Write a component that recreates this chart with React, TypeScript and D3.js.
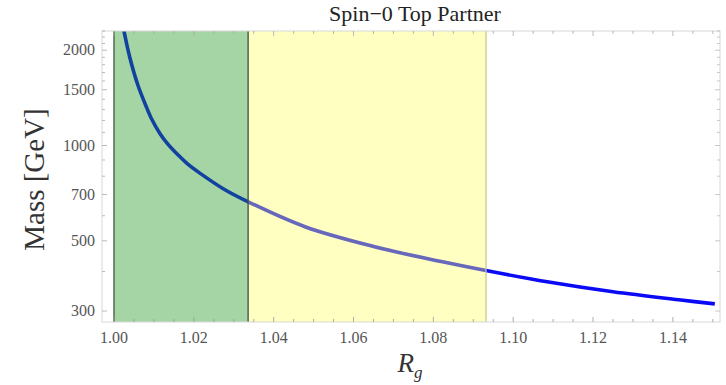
import React from 'react';
import * as d3 from 'd3';

// values
const rg = [1.0025, 1.004, 1.006, 1.008, 1.0095, 1.0115, 1.0135, 1.016, 1.0185, 1.0215, 1.028, 1.0335, 1.048, 1.065, 1.082, 1.0935, 1.1085, 1.125, 1.142, 1.1505];
const mass = [2300, 1890, 1550, 1335, 1208, 1092, 1010, 935, 873, 818, 722, 665, 553, 480, 430, 402, 371, 345, 325, 316];

const greenBand = [1.0, 1.0336];
const yellowBand = [1.0336, 1.0932];

const xTicks = [1.0, 1.02, 1.04, 1.06, 1.08, 1.1, 1.12, 1.14];
const yTicks = [300, 500, 700, 1000, 1500, 2000];

export default function App() {
  const w = 726;
  const h = 385;
  const left = 102;
  const right = 720;
  const top = 31;
  const bottom = 322;

  const x = d3.scaleLinear().domain([0.997, 1.1518]).range([left, right]);
  const y = d3.scaleLog().domain([277, 2300]).range([bottom, top]);

  const pts: [number, number][] = rg.map((r, i) => [x(r), y(mass[i])]);
  const line = d3.line().curve(d3.curveCatmullRom.alpha(0.5));

  const minorX = d3.range(1.0, 1.1501, 0.005);
  const minorY = d3.range(300, 2301, 100);

  const serif = '"Liberation Serif", "DejaVu Serif", serif';
  const frame = '#d8d8d8';

  return (
    <svg width={w} height={h} style={{ position: 'absolute', left: 0, top: 0, background: '#fff' }}>
      <defs>
        <clipPath id="plot">
          <rect x={left} y={top} width={right - left} height={bottom - top} />
        </clipPath>
      </defs>

      {/* curve first, bands over it with transparency */}
      <path
        d={line(pts) || ''}
        fill="none"
        stroke="#0a0af5"
        strokeWidth={3.6}
        clipPath="url(#plot)"
      />
      <rect
        x={x(greenBand[0])}
        y={top}
        width={x(greenBand[1]) - x(greenBand[0])}
        height={bottom - top}
        fill="rgb(30,150,30)"
        opacity={0.4}
      />
      <rect
        x={x(yellowBand[0])}
        y={top}
        width={x(yellowBand[1]) - x(yellowBand[0])}
        height={bottom - top}
        fill="rgb(255,255,95)"
        opacity={0.38}
      />
      <line x1={x(greenBand[0])} x2={x(greenBand[0])} y1={top} y2={bottom} stroke="#3d5a3d" strokeWidth={1.3} />
      <line x1={x(greenBand[1])} x2={x(greenBand[1])} y1={top} y2={bottom} stroke="#4a574a" strokeWidth={1.4} />
      <line x1={x(yellowBand[1])} x2={x(yellowBand[1])} y1={top} y2={bottom} stroke="#c4c48e" strokeWidth={1.2} />

      {/* frame */}
      <rect x={left} y={top} width={right - left} height={bottom - top} fill="none" stroke={frame} strokeWidth={1} />

      {/* x ticks */}
      {minorX.map((t, i) => {
        const major = i % 4 === 0;
        const len = major ? 5 : 3;
        return (
          <g key={'xt' + i}>
            <line x1={x(t)} x2={x(t)} y1={bottom} y2={bottom - len} stroke="#999" strokeWidth={0.8} />
            <line x1={x(t)} x2={x(t)} y1={top} y2={top + len} stroke="#aaa" strokeWidth={0.8} />
          </g>
        );
      })}
      {xTicks.map((t) => (
        <text
          key={'xl' + t}
          x={x(t)}
          y={bottom + 21}
          textAnchor="middle"
          fontFamily={serif}
          fontSize={16}
          fill="#555"
        >
          {t.toFixed(2)}
        </text>
      ))}

      {/* y ticks */}
      {minorY.map((t) => {
        const major = yTicks.includes(t);
        const len = major ? 5 : 3;
        return (
          <g key={'yt' + t}>
            <line x1={left} x2={left + len} y1={y(t)} y2={y(t)} stroke="#aaa" strokeWidth={0.8} />
            <line x1={right} x2={right - len} y1={y(t)} y2={y(t)} stroke="#bbb" strokeWidth={0.8} />
          </g>
        );
      })}
      {yTicks.map((t) => (
        <text
          key={'yl' + t}
          x={left - 7}
          y={y(t) + 5}
          textAnchor="end"
          fontFamily={serif}
          fontSize={16}
          fill="#555"
        >
          {t}
        </text>
      ))}

      {/* titles */}
      <text x={415} y={21} textAnchor="middle" fontFamily={serif} fontSize={22} fill="#222">
        Spin−0 Top Partner
      </text>
      <text
        transform={`translate(44, ${(top + bottom) / 2 + 3}) rotate(-90)`}
        textAnchor="middle"
        fontFamily={serif}
        fontSize={29}
        fill="#333"
      >
        Mass [GeV]
      </text>
      <text x={410} y={372} textAnchor="middle" fontFamily={serif} fontSize={27} fontStyle="italic" fill="#333">
        R<tspan fontSize={17} dy={6}>g</tspan>
      </text>
    </svg>
  );
}
